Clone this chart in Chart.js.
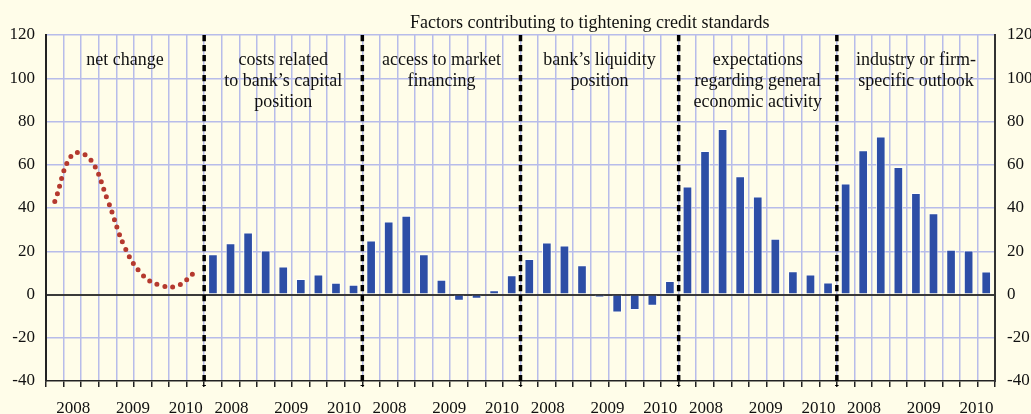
<!DOCTYPE html>
<html><head><meta charset="utf-8">
<script src="https://cdn.jsdelivr.net/npm/chart.js@4.4.1/dist/chart.umd.min.js"></script>
<style>
html,body{margin:0;padding:0;background:#FFFDE9;overflow:hidden;width:1031px;height:414px;}
canvas{display:block;}
</style></head><body>
<canvas id="c" width="1045" height="414"></canvas>
<script>
// ---- data ----
const quarters = ['2008Q1','2008Q2','2008Q3','2008Q4','2009Q1','2009Q2','2009Q3','2009Q4','2010Q1'];
const panelTitles = [
  ['net change'],
  ['costs related','to bank\u2019s capital','position'],
  ['access to market','financing'],
  ['bank\u2019s liquidity','position'],
  ['expectations','regarding general','economic activity'],
  ['industry or firm-','specific outlook']
];
const chartTitle = 'Factors contributing to tightening credit standards';
const netChange = [43.0, 64.7, 62.7, 43.8, 21.5, 9.0, 4.3, 4.1, 10.5];
const capitalCosts = [18.6, 23.7, 28.7, 20.3, 13.0, 7.2, 9.2, 5.4, 4.5];
const marketFinancing = [25.0, 33.8, 36.4, 18.6, 6.8, -2.9, -2.0, 2.0, 8.9];
const liquidityPosition = [16.4, 24.0, 22.7, 13.5, -1.4, -8.3, -7.2, -5.2, 6.3];
const economicExpectations = [49.9, 66.4, 76.5, 54.7, 45.3, 25.8, 10.8, 9.2, 5.5];
const industryOutlook = [51.3, 66.7, 73.1, 59.0, 46.9, 37.6, 20.7, 20.3, 10.6];
const yearTickLabels = ['2008','2009','2010'];
const yearTickOffsets = [1.55, 4.95, 7.95]; // quarter units from each panel's start
const yTicks = [-40,-20,0,20,40,60,80,100,120];

// ---- styles ----
const BG = '#FFFDE9';
const GRID = '#B7BCEA';
const BAR = '#2D4EA6';
const DOT = '#B5392E';
const FONT = "'Liberation Serif','Times New Roman',serif";

const nQ = quarters.length;
const labels = panelTitles.flatMap((p,k) => quarters.map(q => k + ':' + q));
const barData = [...Array(nQ).fill(null), ...capitalCosts, ...marketFinancing, ...liquidityPosition, ...economicExpectations, ...industryOutlook];
const lineData = [...netChange, ...Array(nQ*(panelTitles.length-1)).fill(null)];
const yearPositions = panelTitles.flatMap((p,k) => yearTickOffsets.map(o => k*nQ + o));

const annot = {
  id: 'annot',
  beforeDraw(chart) {
    const ctx = chart.ctx;
    ctx.save(); ctx.fillStyle = BG; ctx.fillRect(0,0,chart.width,chart.height); ctx.restore();
  },
  afterDatasetsDraw(chart) {
    const ctx = chart.ctx, a = chart.chartArea, x = chart.scales.x;
    ctx.save();
    ctx.strokeStyle = '#000'; ctx.lineWidth = 3.5; ctx.setLineDash([6.3, 3.7]);
    for (let k = 1; k < panelTitles.length; k++) {
      const i = k*nQ;
      const px = (x.getPixelForValue(i-1) + x.getPixelForValue(i)) / 2;
      ctx.beginPath(); ctx.moveTo(px, a.top); ctx.lineTo(px, a.bottom + 5); ctx.stroke();
    }
    ctx.setLineDash([]);
    ctx.fillStyle = '#111';
    ctx.font = '18px ' + FONT;
    ctx.textAlign = 'center'; ctx.textBaseline = 'alphabetic';
    panelTitles.forEach((lines, k) => {
      const cx = (x.getPixelForValue(k*nQ) + x.getPixelForValue(k*nQ + nQ - 1)) / 2;
      lines.forEach((t, i) => ctx.fillText(t, cx, a.top + 30 + 21*i));
    });
    ctx.fillText(chartTitle, a.left + 0.573*(a.right - a.left), 28);
    ctx.restore();
  }
};

new Chart(document.getElementById('c'), {
  type: 'bar',
  data: {
    labels: labels,
    datasets: [
      { type: 'bar', data: barData, backgroundColor: BAR, borderColor: 'rgba(255,255,255,0.85)', borderWidth: 1,
        barPercentage: 0.55, categoryPercentage: 1, xAxisID: 'x', yAxisID: 'y' },
      { type: 'line', data: lineData, borderColor: DOT, borderWidth: 5, borderDash: [0, 8], borderCapStyle: 'round',
        tension: 0.4, pointRadius: 0, fill: false, spanGaps: false, xAxisID: 'x', yAxisID: 'y' }
    ]
  },
  options: {
    responsive: false, animation: false, devicePixelRatio: 1,
    layout: { padding: { top: 35, left: 0, right: 0, bottom: 0 } },
    plugins: { legend: { display: false }, tooltip: { enabled: false }, title: { display: false } },
    scales: {
      x: {
        type: 'category', position: 'bottom',
        grid: { color: GRID, lineWidth: 1.5, offset: true, drawTicks: true, tickLength: 6, tickColor: '#222', tickWidth: 1.5 },
        border: { color: '#222', width: 1.5 },
        ticks: { display: false },
        afterFit: s => { s.height = 7; }
      },
      xYears: {
        type: 'linear', position: 'bottom', min: 0, max: labels.length, offset: false,
        grid: { display: false, drawTicks: false, offset: false }, border: { display: false },
        ticks: { autoSkip: false, maxRotation: 0, padding: 10, color: '#111', font: { family: FONT, size: 17 },
          callback: (v, i) => yearTickLabels[i % yearTickLabels.length] },
        afterBuildTicks: s => { s.ticks = yearPositions.map(v => ({ value: v })); },
        afterFit: s => { s.height = 26; }
      },
      y: {
        position: 'left', min: -40, max: 120,
        grid: { drawTicks: false,
          color: c => c.tick.value === 0 ? '#3A3A3A' : (c.tick.value === -40 ? 'rgba(0,0,0,0)' : GRID),
          lineWidth: c => c.tick.value === 0 ? 2 : 1.5 },
        border: { color: '#222', width: 2 },
        ticks: { padding: 11, color: '#111', font: { family: FONT, size: 17 } },
        afterBuildTicks: s => { s.ticks = yTicks.map(v => ({ value: v })); },
        afterFit: s => { s.width = 46; }
      },
      y2: {
        position: 'right', min: -40, max: 120,
        grid: { display: false, drawTicks: false },
        border: { color: '#333', width: 2 },
        ticks: { padding: 12, color: '#111', font: { family: FONT, size: 17 } },
        afterBuildTicks: s => { s.ticks = yTicks.map(v => ({ value: v })); },
        afterFit: s => { s.width = 50; }
      }
    }
  },
  plugins: [annot]
});
</script>
</body></html>
